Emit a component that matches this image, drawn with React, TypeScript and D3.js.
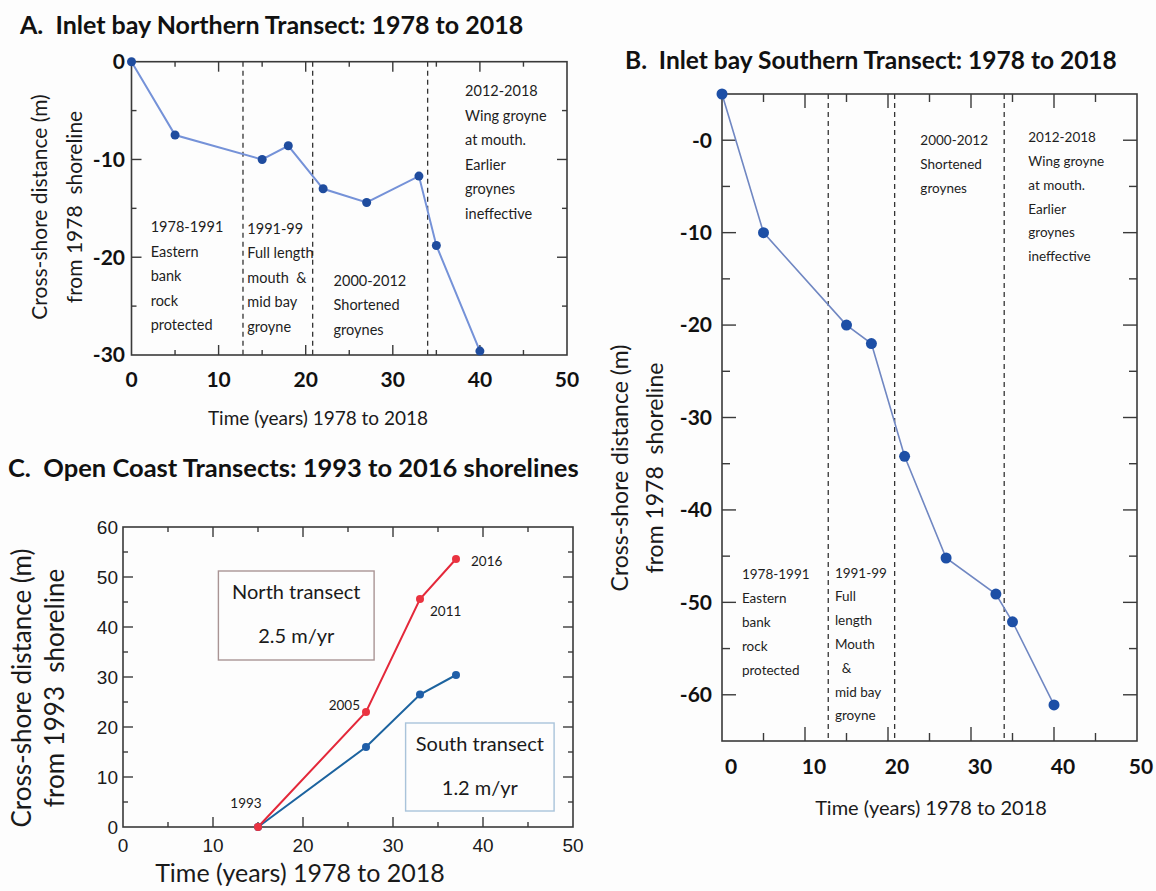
import React from 'react';
import * as d3 from 'd3';

// ---------- data ----------
const yearsA = [0, 5, 15, 18, 22, 27, 33, 35, 40];
const distA = [0, -7.5, -10, -8.6, -13, -14.4, -11.7, -18.8, -29.6];
const yearsB = [0, 5, 15, 18, 22, 27, 33, 35, 40];
const distB = [5, -10, -20, -22, -34.2, -45.2, -49.1, -52.1, -61.1];
const periodBreaks = [12.8, 20.8, 34.0];
const yearsC = [15, 27, 33, 37];
const northC = [0, 23, 45.6, 53.6];
const southC = [0, 16, 26.5, 30.4];
const yearLabelsC = ['1993', '2005', '2011', '2016'];
const xTickValues = [0, 10, 20, 30, 40, 50];
const yTickValuesA = [0, -10, -20, -30];
const yTickValuesB = [0, -10, -20, -30, -40, -50, -60];
const yTickLabelsB = ['-0', '-10', '-20', '-30', '-40', '-50', '-60'];
const yTickValuesC = [0, 10, 20, 30, 40, 50, 60];

const titleA = 'A.  Inlet bay Northern Transect: 1978 to 2018';
const titleB = 'B.  Inlet bay Southern Transect: 1978 to 2018';
const titleC = 'C.  Open Coast Transects: 1993 to 2016 shorelines';
const xTitle = 'Time (years) 1978 to 2018';
const yTitleAB = ['Cross-shore distance (m)', 'from 1978  shoreline'];
const yTitleC = ['Cross-shore distance (m)', 'from 1993  shoreline'];

// annotations: [x (years), y (m), lines]
const notesA: [number, number, string[]][] = [
  [2.2, -16.9, ['1978-1991', 'Eastern', 'bank', 'rock', 'protected']],
  [13.3, -17.1, ['1991-99', 'Full length', 'mouth  &', 'mid bay', 'groyne']],
  [23.2, -22.4, ['2000-2012', 'Shortened', 'groynes']],
  [38.3, -3.0, ['2012-2018', 'Wing groyne', 'at mouth.', 'Earlier', 'groynes', 'ineffective']],
];
const notesB: [number, number, string[]][] = [
  [2.4, -47.0, ['1978-1991', 'Eastern', 'bank', 'rock', 'protected']],
  [13.6, -46.8, ['1991-99', 'Full', 'length', 'Mouth', '  &', 'mid bay', 'groyne']],
  [23.9, 0.0, ['2000-2012', 'Shortened', 'groynes']],
  [36.9, 0.3, ['2012-2018', 'Wing groyne', 'at mouth.', 'Earlier', 'groynes', 'ineffective']],
];
const boxesC: [number, number, number, number, string[], string][] = [
  [10.6, 27.9, 51.2, 33.4, ['North transect', '2.5 m/yr'], '#a99494'],
  [31.4, 47.9, 20.8, 3.2, ['South transect', '1.2 m/yr'], '#a9c3da'],
];

const CAL = "Lato, 'Open Sans', sans-serif";
const ARIAL = "'Liberation Sans', Arial, sans-serif";
const FRAME = '#3a3a3a';

type Sc = d3.ScaleLinear<number, number>;

function Frame({ x, y, yMinorStep, majorLen, minorLen }: { x: Sc; y: Sc; yMinorStep: number; majorLen: number; minorLen: number }) {
  const [x0, x1] = x.range();
  const [yb, yt] = y.range();
  const xt = d3.range(x.domain()[0] + 5, x.domain()[1], 5);
  const [d0, d1] = y.domain();
  const yt2 = d3.range(Math.ceil((d0 + 0.001) / yMinorStep) * yMinorStep, d1, yMinorStep);
  return (
    <g>
      <rect x={x0} y={yt} width={x1 - x0} height={yb - yt} fill="none" stroke={FRAME} strokeWidth={1.6} />
      {xt.map((v) => {
        const L = v % 10 === 0 ? majorLen : minorLen;
        return (
          <g key={'x' + v}>
            <line x1={x(v)} x2={x(v)} y1={yb} y2={yb - L} stroke={FRAME} strokeWidth={1.4} />
            <line x1={x(v)} x2={x(v)} y1={yt} y2={yt + L} stroke={FRAME} strokeWidth={1.4} />
          </g>
        );
      })}
      {yt2.map((v) => {
        const L = Math.abs(v) % 10 === 0 ? majorLen : minorLen;
        return (
          <g key={'y' + v}>
            <line x1={x0} x2={x0 + L} y1={y(v)} y2={y(v)} stroke={FRAME} strokeWidth={1.4} />
            <line x1={x1} x2={x1 - L} y1={y(v)} y2={y(v)} stroke={FRAME} strokeWidth={1.4} />
          </g>
        );
      })}
    </g>
  );
}

function YTitle({ lines, cx, cy, gap, size, font }: { lines: string[]; cx: number; cy: number; gap: number; size: number; font: string }) {
  return (
    <g>
      {lines.map((t, i) => (
        <text key={i} transform={`translate(${cx + i * gap},${cy}) rotate(-90)`} textAnchor="middle" dy="0.35em"
          fontFamily={font} fontSize={size} fill="#1a1a1a" style={{ whiteSpace: 'pre' }}>{t}</text>
      ))}
    </g>
  );
}

function Notes({ notes, x, y, size, lh }: { notes: [number, number, string[]][]; x: Sc; y: Sc; size: number; lh: number }) {
  return (
    <g>
      {notes.map(([nx, ny, lines], i) => (
        <g key={i}>
          {lines.map((t, j) => (
            <text key={j} x={x(nx)} y={y(ny) + j * lh} dy="0.35em" fontFamily={CAL} fontSize={size} fill="#1e1e1e"
              style={{ whiteSpace: 'pre' }}>{t}</text>
          ))}
        </g>
      ))}
    </g>
  );
}

export default function App() {
  // Panel A
  const xA = d3.scaleLinear().domain([0, 50]).range([131.5, 567]);
  const yA = d3.scaleLinear().domain([-30, 0]).range([355, 61.7]);
  // Panel B
  const xB = d3.scaleLinear().domain([0, 50]).range([722, 1137]);
  const yB = d3.scaleLinear().domain([-65, 5]).range([741, 94]);
  // Panel C
  const xC = d3.scaleLinear().domain([0, 50]).range([123, 573]);
  const yC = d3.scaleLinear().domain([0, 60]).range([827, 527]);

  const lineA = d3.line<number>().x((_, i) => xA(yearsA[i])).y((d) => yA(d));
  const lineB = d3.line<number>().x((_, i) => xB(yearsB[i])).y((d) => yB(d));
  const lineCN = d3.line<number>().x((_, i) => xC(yearsC[i])).y((d) => yC(d));
  const lineCS = d3.line<number>().x((_, i) => xC(yearsC[i])).y((d) => yC(d));

  // label offsets for panel C year labels
  const yrOffsets: [number, number, 'start' | 'end' | 'middle'][] = [
    [-12, -24, 'middle'],
    [-6, -7, 'end'],
    [10, 12, 'start'],
    [15, 2, 'start'],
  ];

  return (
    <svg width={1156} height={891} style={{ position: 'absolute', left: 0, top: 0, background: '#fff' }}>
      <rect width={1156} height={891} fill="#fdfdfd" />

      {/* ---------------- Panel A ---------------- */}
      <text x={20} y={25} dy="0.35em" fontFamily={CAL} fontWeight={700} fontSize={25} fill="#111" style={{ whiteSpace: 'pre' }}>{titleA}</text>
      {periodBreaks.map((b) => (
        <line key={b} x1={xA(b)} x2={xA(b)} y1={yA.range()[1]} y2={yA.range()[0]} stroke="#333" strokeWidth={1.3} strokeDasharray="5,4" />
      ))}
      <Frame x={xA} y={yA} yMinorStep={5} majorLen={10} minorLen={5} />
      <Notes notes={notesA} x={xA} y={yA} size={14.5} lh={24.5} />
      <path d={lineA(distA) || ''} fill="none" stroke="#7592d8" strokeWidth={2} />
      {distA.map((d, i) => <circle key={i} cx={xA(yearsA[i])} cy={yA(d)} r={4.5} fill="#1f4c9e" />)}
      {yTickValuesA.map((v) => (
        <text key={v} x={125} y={yA(v)} dy="0.35em" textAnchor="end" fontFamily={CAL} fontWeight={700} fontSize={21} fill="#111">{v}</text>
      ))}
      {xTickValues.map((v) => (
        <text key={v} x={xA(v)} y={380} dy="0.35em" textAnchor="middle" fontFamily={CAL} fontWeight={700} fontSize={21} fill="#111">{v}</text>
      ))}
      <text x={318} y={418} dy="0.35em" textAnchor="middle" fontFamily={CAL} fontSize={19} fill="#1a1a1a">{xTitle}</text>
      <YTitle lines={yTitleAB} cx={40} cy={207} gap={35} size={21} font={CAL} />

      {/* ---------------- Panel B ---------------- */}
      <text x={625} y={60} dy="0.35em" fontFamily={CAL} fontWeight={700} fontSize={24.5} fill="#111" style={{ whiteSpace: 'pre' }}>{titleB}</text>
      {periodBreaks.map((b) => (
        <line key={b} x1={xB(b)} x2={xB(b)} y1={yB.range()[1]} y2={yB.range()[0]} stroke="#333" strokeWidth={1.3} strokeDasharray="5,4" />
      ))}
      <Frame x={xB} y={yB} yMinorStep={5} majorLen={14} minorLen={8} />
      <Notes notes={notesB} x={xB} y={yB} size={13.5} lh={23.8} />
      <path d={lineB(distB) || ''} fill="none" stroke="#7087c2" strokeWidth={1.6} />
      {distB.map((d, i) => <circle key={i} cx={xB(yearsB[i])} cy={yB(d)} r={5.5} fill="#1d4fa6" />)}
      {yTickValuesB.map((v, i) => (
        <text key={v} x={712} y={yB(v)} dy="0.35em" textAnchor="end" fontFamily={CAL} fontWeight={700} fontSize={21} fill="#111">{yTickLabelsB[i]}</text>
      ))}
      {xTickValues.map((v) => (
        <text key={v} x={Math.min(xB(v) + 9, 1141)} y={767} dy="0.35em" textAnchor="middle" fontFamily={CAL} fontWeight={700} fontSize={21} fill="#111">{v}</text>
      ))}
      <text x={931} y={808} dy="0.35em" textAnchor="middle" fontFamily={CAL} fontSize={20} fill="#1a1a1a">{xTitle}</text>
      <YTitle lines={yTitleAB} cx={620} cy={468} gap={35} size={23} font={CAL} />

      {/* ---------------- Panel C ---------------- */}
      <text x={8} y={468} dy="0.35em" fontFamily={CAL} fontWeight={700} fontSize={25.5} fill="#111" style={{ whiteSpace: 'pre' }}>{titleC}</text>
      <Frame x={xC} y={yC} yMinorStep={5} majorLen={10} minorLen={5} />
      {boxesC.map(([bx0, bx1, by0, by1, lines, col], i) => (
        <g key={i}>
          <rect x={xC(bx0)} y={yC(by0)} width={xC(bx1) - xC(bx0)} height={yC(by1) - yC(by0)} fill="none" stroke={col} strokeWidth={1.4} />
          {lines.map((t, j) => (
            <text key={j} x={(xC(bx0) + xC(bx1)) / 2} y={yC(by0) + 21 + j * 44} dy="0.35em" textAnchor="middle" fontFamily={CAL} fontSize={20} fill="#1a1a1a">{t}</text>
          ))}
        </g>
      ))}
      <path d={lineCS(southC) || ''} fill="none" stroke="#1c639f" strokeWidth={2} />
      <path d={lineCN(northC) || ''} fill="none" stroke="#e4283a" strokeWidth={2} />
      {southC.map((d, i) => <circle key={'s' + i} cx={xC(yearsC[i])} cy={yC(d)} r={4} fill="#1f5ea8" />)}
      {northC.map((d, i) => <circle key={'n' + i} cx={xC(yearsC[i])} cy={yC(d)} r={4} fill="#ea3340" />)}
      {yearLabelsC.map((t, i) => (
        <text key={t} x={xC(yearsC[i]) + yrOffsets[i][0]} y={yC(northC[i]) + yrOffsets[i][1]} dy="0.35em" textAnchor={yrOffsets[i][2]}
          fontFamily={CAL} fontSize={13.5} fill="#1a1a1a">{t}</text>
      ))}
      {yTickValuesC.map((v) => (
        <text key={v} x={118} y={yC(v)} dy="0.35em" textAnchor="end" fontFamily={ARIAL} fontSize={19} fill="#1a1a1a">{v}</text>
      ))}
      {xTickValues.map((v) => (
        <text key={v} x={xC(v)} y={845} dy="0.35em" textAnchor="middle" fontFamily={ARIAL} fontSize={19} fill="#1a1a1a">{v}</text>
      ))}
      <text x={300} y={873} dy="0.35em" textAnchor="middle" fontFamily={CAL} fontSize={25} fill="#1a1a1a">{xTitle}</text>
      <YTitle lines={yTitleC} cx={22} cy={688} gap={33} size={26} font={CAL} />
    </svg>
  );
}
